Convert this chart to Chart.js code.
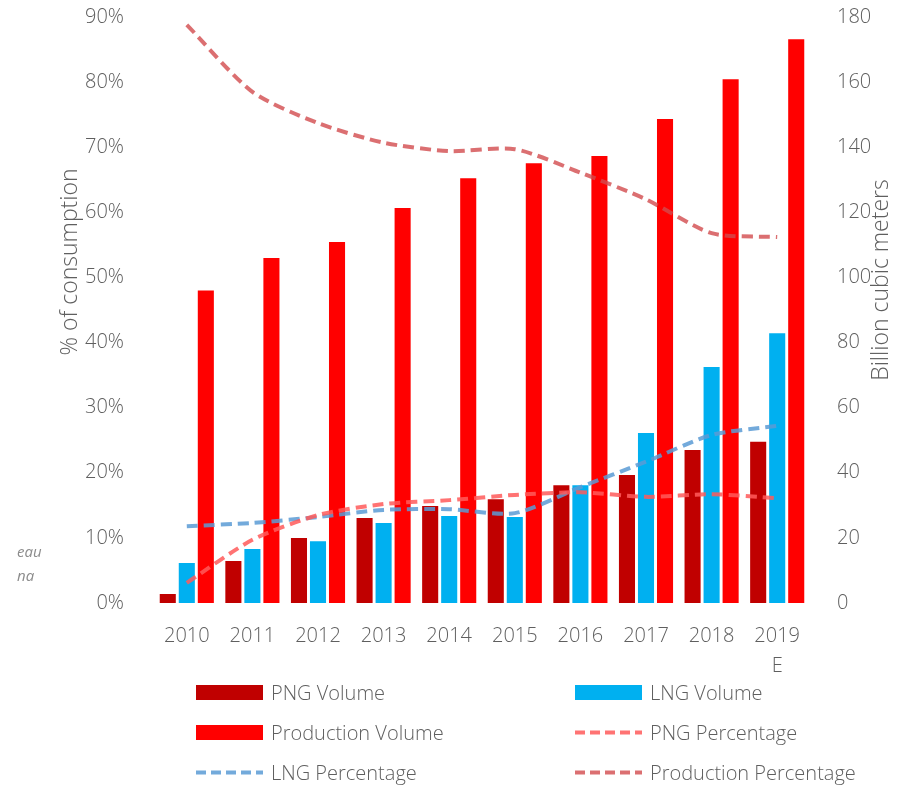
<!DOCTYPE html>
<html>
<head>
<meta charset="utf-8">
<script src="https://cdn.jsdelivr.net/npm/chart.js@4.4.0/dist/chart.umd.min.js"></script>
<style>
  html, body { margin: 0; padding: 0; background: #fff; }
  body { width: 907px; height: 787px; position: relative; overflow: hidden; font-family: "Open Sans", sans-serif; color: #5f5f5f; }
  #wrap { position: absolute; left: 0; top: 0; width: 907px; height: 680px; }
  .side { position: absolute; left: 17px; font-style: italic; font-size: 15px; color: #8c8c8c; }
  #legend { position: absolute; left: 0; top: 0; width: 907px; height: 787px; pointer-events: none; }
  .item { position: absolute; display: flex; align-items: center; font-size: 20px; font-weight: 300; height: 30px; }
  .swatch { width: 67px; height: 15px; margin-right: 8px; }
</style>
</head>
<body>
<div id="wrap"><canvas id="myChart"></canvas></div>
<div class="side" style="top:541px">eau</div>
<div class="side" style="top:565px">na</div>
<div id="legend"></div>
<script>
// categories and series (volumes in bcm, shares in %)
var years = ['2010', '2011', '2012', '2013', '2014', '2015', '2016', '2017', '2018', ['2019', 'E']];
var pngVolume = [3.1, 13.2, 20.3, 26.4, 30.1, 32.2, 36.5, 39.6, 47.3, 49.8];
var lngVolume = [12.6, 16.9, 19.3, 24.9, 27.0, 26.7, 36.5, 52.5, 72.8, 83.2];
var productionVolume = [96.3, 106.3, 111.2, 121.6, 130.8, 135.4, 137.6, 149.0, 161.2, 173.5];
var pngPercentage = [3.1, 9.7, 13.5, 15.2, 15.8, 16.6, 17.0, 16.3, 16.7, 16.1];
var lngPercentage = [11.8, 12.3, 13.2, 14.3, 14.4, 13.8, 17.8, 21.7, 25.8, 27.2];
var productionPercentage = [88.8, 78.5, 73.7, 70.7, 69.4, 69.7, 66.1, 62.0, 56.8, 56.2];
var leftTicks = [0, 10, 20, 30, 40, 50, 60, 70, 80, 90];
var rightTicks = [0, 20, 40, 60, 80, 100, 120, 140, 160, 180];

var grey = '#5f5f5f';
var xFont = { family: 'Open Sans', size: 20, weight: 300, lineHeight: 1.5 };
var yFont = { family: 'Open Sans', size: 20, weight: 300 };

function barSet(label, data, color) {
    return {
        type: 'bar', label: label, data: data, yAxisID: 'y1',
        backgroundColor: color, borderColor: 'rgba(255,255,255,0.55)', borderWidth: 1,
        categoryPercentage: 0.87, barPercentage: 0.95, order: 1
    };
}
function lineSet(label, data, color) {
    return {
        type: 'line', label: label, data: data, yAxisID: 'y',
        borderColor: color, backgroundColor: color, borderWidth: 4, borderDash: [11, 6],
        pointRadius: 0, tension: 0.25, fill: false, order: 0
    };
}
function noPad(s) { s.paddingTop = 0; s.paddingBottom = 0; s.paddingLeft = 0; s.paddingRight = 0; }

// axis titles drawn by hand so the right one reads bottom-to-top like the original
var axisTitles = {
    id: 'axisTitles',
    afterDraw: function (chart) {
        var c = chart.ctx, a = chart.chartArea;
        [['% of consumption', 70, a.top + 245], ['Billion cubic meters', 881, a.top + 263]].forEach(function (t) {
            c.save();
            c.fillStyle = grey;
            c.font = '300 23px "Open Sans"';
            c.textAlign = 'center';
            c.textBaseline = 'middle';
            c.translate(t[1], t[2]);
            c.rotate(-Math.PI / 2);
            c.fillText(t[0], 0, 0);
            c.restore();
        });
    }
};

var ctx = document.getElementById('myChart').getContext('2d');
var myChart = new Chart(ctx, {
    data: {
        labels: years,
        datasets: [
            barSet('PNG Volume', pngVolume, '#C00000'),
            barSet('LNG Volume', lngVolume, '#00B0F0'),
            barSet('Production Volume', productionVolume, '#FF0000'),
            lineSet('PNG Percentage', pngPercentage, 'rgba(255,90,90,0.85)'),
            lineSet('LNG Percentage', lngPercentage, 'rgba(91,155,213,0.85)'),
            lineSet('Production Percentage', productionPercentage, 'rgba(210,75,78,0.8)')
        ]
    },
    options: {
        responsive: true,
        maintainAspectRatio: false,
        animation: false,
        layout: { padding: { top: 17, left: 0, right: 0, bottom: 0 } },
        plugins: { legend: { display: false }, tooltip: { enabled: false } },
        scales: {
            x: {
                grid: { display: false }, border: { display: false },
                ticks: { color: grey, font: xFont, maxRotation: 0, autoSkip: false, padding: 10 },
                afterFit: function (s) { s.height = 77; noPad(s); }
            },
            y: {
                position: 'left', min: 0, max: 90,
                grid: { display: false }, border: { display: false },
                afterBuildTicks: function (s) { s.ticks = leftTicks.map(function (v) { return { value: v }; }); },
                ticks: { color: grey, font: yFont, padding: 22, callback: function (v) { return v + '%'; } },
                afterFit: function (s) { s.width = 154; noPad(s); }
            },
            y1: {
                position: 'right', min: 0, max: 180,
                grid: { display: false }, border: { display: false },
                afterBuildTicks: function (s) { s.ticks = rightTicks.map(function (v) { return { value: v }; }); },
                ticks: { color: grey, font: yFont, padding: 19 },
                afterFit: function (s) { s.width = 97; noPad(s); }
            }
        }
    },
    plugins: [axisTitles]
});

// two-column legend below the chart, built from the datasets
var legendPos = [[196, 692], [575, 692], [196, 732], [575, 732], [196, 772], [575, 772]];
var legend = document.getElementById('legend');
myChart.data.datasets.forEach(function (ds, i) {
    var item = document.createElement('div');
    item.className = 'item';
    item.style.left = legendPos[i][0] + 'px';
    item.style.top = (legendPos[i][1] - 15) + 'px';
    var sw;
    if (ds.type === 'bar') {
        sw = document.createElement('div');
        sw.className = 'swatch';
        sw.style.background = ds.backgroundColor;
    } else {
        sw = document.createElementNS('http://www.w3.org/2000/svg', 'svg');
        sw.setAttribute('width', '67');
        sw.setAttribute('height', '15');
        sw.style.marginRight = '8px';
        var ln = document.createElementNS('http://www.w3.org/2000/svg', 'line');
        ln.setAttribute('x1', '0'); ln.setAttribute('x2', '67');
        ln.setAttribute('y1', '7.5'); ln.setAttribute('y2', '7.5');
        ln.setAttribute('stroke', ds.borderColor);
        ln.setAttribute('stroke-width', '4');
        ln.setAttribute('stroke-dasharray', '10 5');
        sw.appendChild(ln);
    }
    var tx = document.createElement('span');
    tx.textContent = ds.label;
    item.appendChild(sw);
    item.appendChild(tx);
    legend.appendChild(item);
});
</script>
</body>
</html>
